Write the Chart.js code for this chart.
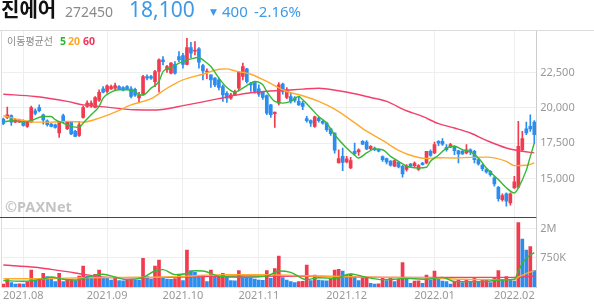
<!DOCTYPE html>
<html>
<head>
<meta charset="utf-8">
<script src="https://cdn.jsdelivr.net/npm/chart.js@4.4.0/dist/chart.umd.min.js"></script>
<style>
  html, body { margin: 0; padding: 0; background: #fff; }
  #wrap { position: relative; width: 594px; height: 304px; overflow: hidden; font-family: "Noto Sans", "Noto Sans CJK KR", sans-serif; }
  #c { position: absolute; left: 0; top: 0; }
  .t { position: absolute; white-space: nowrap; line-height: 1; }
  .kr { font-family: "Noto Sans CJK KR", sans-serif; }
</style>
</head>
<body>
<div id="wrap">
  <canvas id="c" width="594" height="304"></canvas>
  <div class="t kr" style="left:1px;top:-1px;font-size:20px;font-weight:700;color:#111">진에어</div>
  <div class="t" style="left:65px;top:4.5px;font-size:14px;color:#8a8a8a">272450</div>
  <div class="t" style="left:129px;top:-1.5px;font-size:21px;color:#3c9ae8">18,100</div>
  <div class="t" style="left:210px;top:8px;font-size:9px;color:#3c9ae8;font-family:'DejaVu Sans'">▼</div>
  <div class="t" style="left:222px;top:3.7px;font-size:15px;color:#3c9ae8">400</div>
  <div class="t" style="left:254px;top:3.7px;font-size:15px;color:#3c9ae8">-2.16%</div>

  <div class="t kr" style="left:7px;top:36px;font-size:10px;color:#8a8a8a">이동평균선</div>
  <div class="t" style="left:60px;top:35.5px;font-size:10.5px;font-weight:700;color:#2db52d">5</div>
  <div class="t" style="left:68px;top:35.5px;font-size:10.5px;font-weight:700;color:#ffa726">20</div>
  <div class="t" style="left:83px;top:35.5px;font-size:10.5px;font-weight:700;color:#f2335d">60</div>

  <div class="t" style="left:5px;top:199px;font-size:14.5px;font-weight:700;color:#c4c4c4">©PAXNet</div>
</div>
<script>
// trading days shown on the chart, grouped by month
const months = [
  ['2021-07', [26, 27, 28, 29, 30]],
  ['2021-08', [2, 3, 4, 5, 6, 9, 10, 11, 12, 13, 17, 18, 19, 20, 23, 24, 25, 26, 27, 30, 31]],
  ['2021-09', [1, 2, 3, 6, 7, 8, 9, 10, 13, 14, 15, 16, 17, 23, 24, 27, 28, 29, 30]],
  ['2021-10', [1, 5, 6, 7, 8, 12, 13, 14, 15, 18, 19, 20, 21, 22, 25, 26, 27, 28, 29]],
  ['2021-11', [1, 2, 3, 4, 5, 8, 9, 10, 11, 12, 15, 16, 17, 18, 19, 22, 23, 24, 25, 26, 29, 30]],
  ['2021-12', [1, 2, 3, 6, 7, 8, 9, 10, 13, 14, 15, 16, 17, 20, 21, 22, 23, 24, 27, 28, 29, 30]],
  ['2022-01', [3, 4, 5, 6, 7, 10, 11, 12, 13, 14, 17, 18, 19, 20, 21, 24, 25, 26, 27, 28]],
  ['2022-02', [3, 4, 7, 8, 9, 10]]
]
const dates = months.flatMap(([m, days]) => days.map(d => m + '-' + String(d).padStart(2, '0')))

const open = [19200, 19300, 19450, 18990, 19000, 19080, 18690, 18990, 19790, 20020,
  19510, 19080, 18850, 18800, 18220, 19450, 18520, 19000, 18340, 18050,
  19320, 20090, 20140, 20020, 20540, 21340, 21150, 21340, 21380, 21500,
  21430, 21500, 21340, 21300, 20700, 20960, 22210, 22200, 21850, 22560,
  23380, 22680, 22440, 23070, 23610, 23680, 23070, 24250, 24000, 24160,
  22980, 22510, 22330, 22090, 21970, 21500, 21030, 20680, 20910, 21390,
  22210, 22750, 21740, 21780, 21340, 21100, 20870, 20210, 19580, 20330,
  21670, 20730, 20800, 20680, 20450, 20330, 19230, 19090, 18690, 19270,
  19040, 18920, 18520, 18220, 16110, 16570, 16180, 15750, 16920, 16880,
  17630, 17580, 17110, 17160, 17040, 16550, 16410, 16230, 15870, 16150,
  15870, 15640, 16030, 15915, 15640, 16100, 16100, 16930, 16810, 17630,
  17630, 17210, 17230, 17280, 16970, 16930, 16810, 17040, 16930, 16340,
  15940, 15640, 15520, 15050, 14390, 13520, 13920, 13290, 14345, 14390,
  17040, 18520, 18690, 18990]
const high = [19270, 20050, 19500, 19200, 19200, 19150, 19000, 20120, 19920, 20210,
  19560, 19150, 18900, 18850, 19050, 19550, 19050, 19050, 18400, 19040,
  20120, 20490, 20490, 20800, 21270, 21500, 21620, 21600, 21740, 21560,
  21500, 21560, 21500, 21400, 21100, 22300, 22330, 22300, 22650, 23450,
  23610, 23000, 23200, 23260, 23970, 23850, 24910, 24625, 24670, 24250,
  23070, 22750, 22330, 22140, 22090, 21620, 21150, 21030, 21250, 22510,
  23150, 22790, 21800, 21850, 21620, 21150, 20910, 20250, 19700, 21780,
  21740, 21430, 21030, 20800, 20800, 20450, 19390, 19150, 19420, 19320,
  19100, 18990, 18570, 18240, 17040, 17160, 16570, 16500, 17510, 17110,
  17680, 17680, 17330, 17230, 17100, 16600, 16450, 16280, 16320, 16220,
  15940, 15990, 16080, 16180, 15990, 16150, 16930, 17040, 17580, 17680,
  17820, 17400, 17490, 17330, 17000, 17000, 17400, 17100, 16990, 16450,
  16000, 15700, 15570, 15165, 14460, 13920, 13990, 13990, 15165, 19040,
  18335, 18990, 19510, 19100]
const low = [18800, 19230, 18760, 18950, 18950, 18700, 18620, 18950, 19500, 19700,
  18850, 18700, 18650, 18560, 17910, 18950, 18450, 18100, 17960, 17980,
  19270, 20020, 20020, 19990, 20450, 21050, 21030, 21300, 21270, 21300,
  21200, 21300, 20700, 20800, 20400, 20900, 21970, 22000, 21500, 21100,
  23030, 22500, 22400, 22370, 23260, 22790, 23030, 23545, 23730, 22790,
  21970, 22050, 21430, 21500, 21270, 20450, 20380, 20600, 20850, 21270,
  21970, 21740, 21150, 21030, 20800, 20600, 19510, 19320, 18620, 20210,
  20960, 20640, 20330, 20400, 20170, 19860, 18990, 18690, 18620, 18990,
  18850, 18330, 18050, 16800, 16100, 15565, 16100, 15700, 16645, 16645,
  17400, 17040, 17050, 16980, 16880, 16220, 16040, 15870, 15840, 15750,
  15100, 15520, 15800, 15850, 15570, 15950, 16030, 16570, 16760, 17330,
  17350, 16930, 17180, 16690, 16100, 16700, 16740, 16690, 16100, 15940,
  15565, 15380, 15165, 14460, 13410, 13410, 13055, 13130, 14300, 14345,
  16970, 18100, 18335, 17510]
const close = [18900, 19500, 18990, 19150, 19150, 18760, 18990, 20020, 19600, 19790,
  19150, 18800, 18690, 18620, 18990, 19000, 18990, 18150, 17980, 18800,
  20020, 20330, 20330, 20730, 21100, 21100, 21550, 21500, 21570, 21340,
  21270, 21340, 20800, 20900, 20900, 22210, 22090, 22090, 22560, 23380,
  23260, 22910, 23150, 22440, 23380, 23070, 24250, 23850, 24080, 23220,
  22600, 22600, 21970, 21620, 21430, 20910, 20680, 20910, 21150, 22510,
  22910, 21850, 21620, 21150, 20960, 20730, 19620, 19510, 19700, 21620,
  21150, 21270, 20490, 20520, 20210, 20090, 19090, 18920, 19370, 19090,
  18920, 18450, 18170, 17000, 16410, 16150, 16390, 16270, 16760, 17040,
  17440, 17090, 17280, 17040, 16930, 16340, 16180, 15940, 16270, 15820,
  15330, 15900, 15870, 16100, 15920, 15990, 16930, 16645, 17400, 17510,
  17440, 17040, 17400, 16970, 16740, 16740, 17040, 16880, 16340, 16030,
  15710, 15470, 15280, 14630, 13590, 13805, 13410, 13920, 14770, 17280,
  17820, 18220, 18500, 18100]

// volume in thousands of shares
const volume = [78, 215, 112, 76, 80, 75, 138, 440, 181, 224,
  353, 267, 250, 138, 353, 138, 181, 185, 164, 285,
  543, 285, 267, 328, 440, 250, 224, 181, 241, 164,
  160, 198, 200, 181, 178, 741, 267, 207, 543, 698,
  241, 207, 198, 215, 328, 164, 957, 422, 379, 270,
  284, 138, 440, 250, 267, 353, 250, 164, 160, 422,
  260, 250, 240, 207, 181, 170, 422, 224, 474, 802,
  241, 181, 138, 112, 138, 145, 569, 164, 310, 181,
  164, 160, 198, 440, 457, 414, 310, 336, 267, 164,
  241, 250, 95, 78, 80, 250, 164, 250, 138, 200,
  629, 224, 95, 155, 160, 95, 310, 181, 414, 198,
  155, 138, 78, 155, 181, 112, 181, 138, 224, 138,
  181, 198, 112, 224, 422, 181, 267, 181, 155, 1664,
  1241, 957, 1043, 422]

// moving averages: [day index, value]
const ma5 = [[0, 18990], [2, 19090], [5, 18990], [7, 19090], [10, 19390], [12, 19390], [13, 19160], [15, 18920], [17, 18690], [19, 18620],
  [20, 18920], [22, 19510], [24, 20100], [25, 20680], [27, 21100], [29, 21270], [31, 21270], [33, 21150], [34, 20920], [35, 20900],
  [37, 21390], [39, 21860], [40, 22560], [42, 22840], [44, 23150], [45, 23260], [47, 23450], [49, 23550], [50, 23380], [52, 22910],
  [54, 22090], [56, 21430], [58, 21100], [60, 21390], [62, 21740], [63, 21860], [65, 21620], [66, 21150], [68, 20450], [70, 20330],
  [72, 20450], [74, 20800], [75, 20560], [77, 19980], [79, 19390], [81, 18920], [83, 18100], [86, 17160], [88, 16650], [89, 16460],
  [91, 16810], [93, 17090], [95, 17040], [97, 16570], [99, 16220], [101, 15880], [102, 15800], [104, 15750], [106, 15800], [107, 16220],
  [109, 16650], [111, 17160], [113, 17280], [115, 17040], [117, 16880], [119, 16460], [121, 15750], [124, 14930], [126, 14350], [128, 13990],
  [129, 14350], [131, 15600], [132, 16570], [133, 17510]]
const ma20 = [[0, 19440], [4, 19160], [8, 18990], [12, 18990], [16, 19040], [20, 18990], [24, 19270], [28, 19700], [32, 20200], [37, 20640],
  [41, 21380], [45, 21970], [50, 22370], [54, 22720], [56, 22750], [58, 22610], [62, 22370], [66, 21860], [71, 21150], [75, 20850],
  [79, 20450], [83, 19900], [87, 19150], [91, 18350], [95, 17700], [99, 17000], [103, 16560], [106, 16420], [109, 16470], [113, 16460],
  [117, 16500], [121, 16520], [126, 16220], [128, 15920], [131, 15940], [133, 16100]]
const ma60 = [[0, 20960], [8, 20800], [16, 20450], [20, 20210], [24, 20100], [33, 19860], [38, 19840], [41, 19930], [45, 20150], [50, 20420],
  [54, 20650], [58, 20880], [62, 21060], [66, 21170], [70, 21220], [75, 21320], [79, 21380], [84, 21200], [88, 20990], [92, 20730],
  [96, 20450], [101, 19790], [105, 19390], [109, 18880], [113, 18570], [117, 18220], [121, 17700], [126, 17160], [130, 16930], [133, 16820]]

const volMa5 = [[0, 164], [5, 150], [10, 210], [12, 260], [15, 200], [18, 180], [22, 280], [25, 330], [28, 260], [31, 190],
  [35, 250], [38, 420], [40, 450], [43, 320], [46, 350], [48, 420], [50, 414], [54, 280], [60, 250], [66, 280],
  [69, 414], [72, 380], [76, 190], [79, 240], [83, 220], [87, 336], [89, 300], [91, 250], [95, 190], [98, 200],
  [100, 224], [106, 200], [110, 250], [113, 140], [118, 140], [121, 145], [124, 181], [128, 200], [129, 400], [130, 612],
  [131, 750], [133, 888]]
const volMa20 = [[0, 215], [10, 215], [20, 240], [30, 250], [40, 260], [48, 290], [55, 320], [65, 320], [75, 290], [85, 270],
  [95, 250], [105, 240], [115, 200], [125, 190], [128, 190], [129, 260], [131, 350], [133, 420]]
const volMa60 = [[0, 569], [8, 509], [12, 457], [16, 397], [20, 328], [24, 267], [28, 241], [34, 241], [49, 267], [60, 284],
  [80, 270], [98, 250], [110, 250], [129, 250], [133, 284]]

const priceTicks = [15000, 17500, 20000, 22500]
const volumeTicks = [750, 1500]

const RED = '#f03c4e'
const BLUE = '#2b8def'
const GREEN = '#35b935'
const ORANGE = '#ffa92e'
const PINK = '#f2406a'

const candleColors = open.map((o, i) => close[i] >= o ? RED : BLUE)
const volumeColors = volume.map((v, i) => i === 0 || v >= volume[i - 1] ? RED : BLUE)

const isMonthStart = i => i > 0 && dates[i].slice(0, 7) !== dates[i - 1].slice(0, 7)

const maLine = (pts, color, axis) => ({
  type: 'line',
  data: pts.map(([i, v]) => ({ x: dates[i], y: v })),
  borderColor: color,
  borderWidth: 1.4,
  pointRadius: 0,
  cubicInterpolationMode: 'monotone',
  yAxisID: axis,
  order: 0
})

const frame = {
  id: 'frame',
  afterDraw (chart) {
    const { ctx, chartArea: a, scales } = chart
    ctx.save()
    ctx.lineWidth = 1
    ctx.strokeStyle = '#dcdcdc'
    ctx.beginPath()
    ctx.moveTo(0, Math.round(a.top) + 0.5)
    ctx.lineTo(chart.width, Math.round(a.top) + 0.5)
    ctx.moveTo(1.5, a.top)
    ctx.lineTo(1.5, a.bottom)
    ctx.stroke()
    const y = Math.round(scales.yv.top) + 0.5
    ctx.strokeStyle = '#444'
    ctx.beginPath()
    ctx.moveTo(0, y)
    ctx.lineTo(a.right, y)
    ctx.stroke()
    ctx.restore()
  }
}

const tickFont = { family: 'Noto Sans', size: 11 }

new Chart(document.getElementById('c'), {
  type: 'bar',
  data: {
    labels: dates,
    datasets: [
      maLine(ma5, GREEN, 'y'),
      maLine(ma20, ORANGE, 'y'),
      maLine(ma60, PINK, 'y'),
      maLine(volMa5, GREEN, 'yv'),
      maLine(volMa20, ORANGE, 'yv'),
      maLine(volMa60, PINK, 'yv'),
      {
        data: open.map((o, i) => [o, close[i]]),
        backgroundColor: candleColors,
        barThickness: 3,
        minBarLength: 1,
        grouped: false,
        yAxisID: 'y',
        order: 1
      },
      {
        data: low.map((l, i) => [l, high[i]]),
        backgroundColor: candleColors,
        barThickness: 1,
        grouped: false,
        yAxisID: 'y',
        order: 2
      },
      {
        data: volume,
        backgroundColor: volumeColors,
        barThickness: 3,
        grouped: false,
        yAxisID: 'yv',
        order: 2
      }
    ]
  },
  options: {
    responsive: false,
    animation: false,
    layout: { padding: { left: 1.3, top: 30, right: 0, bottom: 0 } },
    plugins: { legend: { display: false }, tooltip: { enabled: false } },
    scales: {
      x: {
        type: 'category',
        offset: true,
        grid: { offset: false, color: '#eeeeee', drawTicks: false },
        border: { color: '#dddddd' },
        ticks: {
          autoSkip: false,
          maxRotation: 0,
          padding: 2,
          color: '#999',
          font: tickFont,
          callback (v) { return this.getLabelForValue(v).slice(0, 7).replace('-', '.') }
        },
        afterBuildTicks: s => { s.ticks = s.ticks.filter(t => isMonthStart(t.value)) },
        afterFit: s => { s.height = 17 }
      },
      y: {
        position: 'right',
        stack: 'panels',
        stackWeight: 187,
        min: 12289,
        max: 25493,
        grid: { color: '#eeeeee', drawTicks: false },
        border: { color: '#cccccc' },
        ticks: { padding: 4, color: '#999', font: tickFont, callback: v => v.toLocaleString('en-US') },
        afterBuildTicks: s => { s.ticks = priceTicks.map(v => ({ value: v })) },
        afterFit: s => { s.width = 57.7 }
      },
      yv: {
        position: 'right',
        stack: 'panels',
        stackWeight: 70,
        min: 0,
        max: 1810,
        grid: { color: '#eeeeee', drawTicks: false },
        border: { color: '#cccccc' },
        ticks: { padding: 4, color: '#999', font: tickFont, callback: v => v >= 1000 ? Math.round(v / 1000) + 'M' : v + 'K' },
        afterBuildTicks: s => { s.ticks = volumeTicks.map(v => ({ value: v })) },
        afterFit: s => { s.width = 57.7 }
      }
    }
  },
  plugins: [frame]
})
</script>
</body>
</html>
